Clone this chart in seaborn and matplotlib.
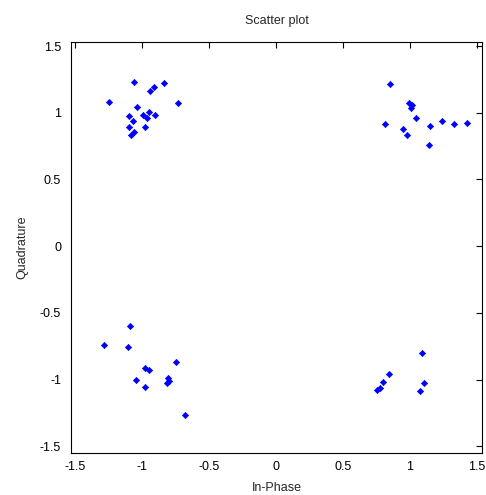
import numpy as np
import pandas as pd
import matplotlib.pyplot as plt
import seaborn as sns

# 산점도 데이터 (In-Phase / Quadrature), 그림에서 읽은 값
i_top_left = [-1.056, -0.907, -0.937, -0.832, -1.247, -0.731, -1.039, -0.949, -0.994,
              -0.900, -0.959, -1.098, -1.066, -1.096, -0.974, -1.056, -1.078]
q_top_left = [1.228, 1.190, 1.160, 1.220, 1.080, 1.070, 1.047, 1.005, 0.985,
              0.985, 0.962, 0.975, 0.942, 0.897, 0.897, 0.855, 0.835]

i_top_right = [0.855, 0.994, 1.014, 1.007, 1.044, 0.815, 0.947, 0.981, 1.153,
               1.240, 1.327, 1.426, 1.143]
q_top_right = [1.218, 1.073, 1.055, 1.038, 0.962, 0.915, 0.880, 0.832, 0.900,
               0.935, 0.915, 0.927, 0.757]

i_bot_left = [-1.086, -1.287, -1.106, -0.748, -0.977, -0.947, -1.046, -0.803,
              -0.795, -0.813, -0.974, -0.676]
q_bot_left = [-0.602, -0.739, -0.759, -0.865, -0.912, -0.932, -1.005, -0.985,
              -1.013, -1.028, -1.055, -1.263]

i_bot_right = [1.088, 0.845, 0.798, 1.108, 0.776, 0.758, 1.078]
q_bot_right = [-0.800, -0.957, -1.017, -1.025, -1.065, -1.080, -1.083]

df = pd.DataFrame({
    'I': i_top_left + i_top_right + i_bot_left + i_bot_right,
    'Q': q_top_left + q_top_right + q_bot_left + q_bot_right,
})

sns.set_style('white')
plt.rcParams['font.family'] = ['Liberation Sans', 'DejaVu Sans']
plt.rcParams['font.size'] = 9

fig = plt.figure(figsize=(4.86, 4.95), dpi=100)
ax = fig.add_axes([0.146, 0.085, 0.846, 0.830])

sns.scatterplot(data=df, x='I', y='Q', ax=ax, marker='D', s=10,
                color='#0000ff', edgecolor='#0000ff', linewidth=0.5)

ax.set_xlim(-1.53, 1.54)
ax.set_ylim(-1.55, 1.53)
ticks = [-1.5, -1, -0.5, 0, 0.5, 1, 1.5]
tick_labels = ['-1.5', '-1', '-0.5', '0', '0.5', '1', '1.5']
ax.set_xticks(ticks, tick_labels)
ax.set_yticks(ticks, tick_labels)
ax.tick_params(axis='x', pad=6)
ax.tick_params(axis='y', pad=7)
ax.tick_params(direction='in', top=True, right=True, length=4, width=0.8,
               colors='black', labelsize=9)
for sp in ax.spines.values():
    sp.set_color('black')
    sp.set_linewidth(0.8)

ax.set_title('Scatter plot', fontsize=9, pad=13)
ax.set_xlabel('In-Phase', fontsize=9, labelpad=6)
ax.set_ylabel('Quadrature', fontsize=9, labelpad=8)

fig.savefig('out.png', dpi=100)
